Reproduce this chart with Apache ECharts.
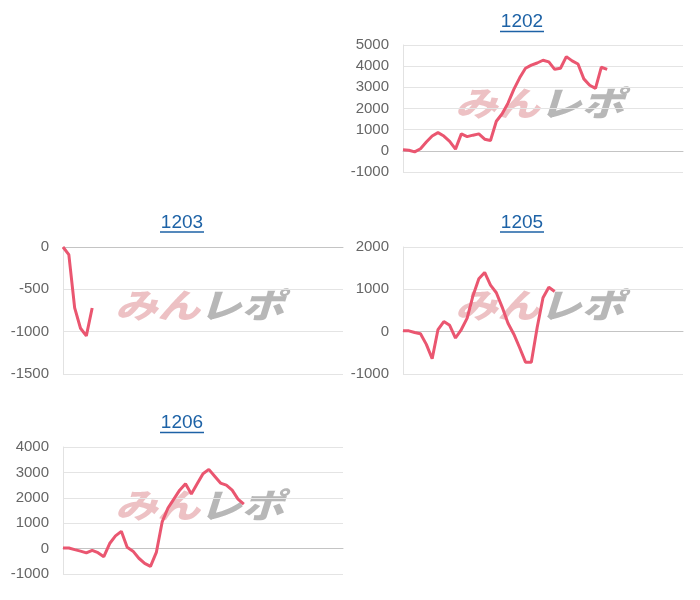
<!DOCTYPE html>
<html>
<head>
<meta charset="utf-8">
<script src="https://cdn.jsdelivr.net/npm/echarts@6/dist/echarts.min.js"></script>
<style>
html,body{margin:0;padding:0;background:#fff;}
#chart{width:700px;height:600px;}
</style>
</head>
<body>
<div id="chart"></div>
<script>
// ---- data ----
const slotCount = 49;
const slots = Array.from({length: slotCount}, (_, i) => String(i + 1));
const machineNames = ['1202', '1203', '1205', '1206'];
const values1202 = [50, 30, -50, 100, 420, 700, 860, 700, 450, 80, 800, 670, 740, 800, 550, 490, 1400, 1750, 2250, 2900, 3450, 3900, 4050, 4150, 4280, 4200, 3850, 3900, 4450, 4250, 4100, 3400, 3100, 2950, 3950, 3850];
const values1203 = [0, -90, -720, -960, -1050, -720];
const values1205 = [20, 20, -20, -50, -300, -640, 50, 240, 150, -150, 50, 320, 850, 1250, 1400, 1100, 920, 580, 200, -60, -380, -720, -720, 100, 800, 1050, 950];
const values1206 = [25, 25, -40, -100, -170, -70, -160, -320, 200, 500, 680, 50, -100, -380, -580, -700, -150, 1050, 1600, 1950, 2300, 2550, 2150, 2550, 2950, 3120, 2850, 2580, 2500, 2300, 1950, 1750];
const yMin = [-1000, -1500, -1000, -1000];
const yMax = [5000, 0, 2000, 4000];
const yStep = [1000, 500, 1000, 1000];
const seriesValues = [values1202, values1203, values1205, values1206];

// ---- layout ----
const grids = [
  {left: 403, top: 45, width: 280, height: 127},
  {left: 63, top: 247, width: 280, height: 127},
  {left: 403, top: 247, width: 280, height: 127},
  {left: 63, top: 447, width: 280, height: 127}
];
const titleCenters = [[522, 22], [182, 222.5], [522, 222.5], [182, 423]];
const lineColor = '#ea5670';
const titleColor = '#1d62a6';

const graphics = [];
grids.forEach((g, i) => {
  const [cx, cy] = titleCenters[i];
  graphics.push({
    type: 'text', x: cx, y: cy, z: 10,
    style: {text: machineNames[i], fill: titleColor, font: '19px "Liberation Sans", Arial, sans-serif', textAlign: 'center', textVerticalAlign: 'middle'}
  });
  graphics.push({
    type: 'line', z: 10,
    shape: {x1: cx - 22, y1: cy + 9.5, x2: cx + 22, y2: cy + 9.5},
    style: {stroke: titleColor, lineWidth: 1.3}
  });
  // watermark
  graphics.push({
    type: 'text', x: g.left + 52, y: g.top + 58, z: 0, scaleX: 1.25,
    style: {text: 'みん', fill: 'rgba(228,160,165,0.65)', font: 'italic 900 34px "Noto Sans CJK JP", sans-serif', textAlign: 'left', textVerticalAlign: 'middle'}
  });
  graphics.push({
    type: 'text', x: g.left + 136, y: g.top + 58, z: 0, scaleX: 1.25,
    style: {text: 'レポ', fill: 'rgba(165,165,165,0.8)', font: 'italic 900 34px "Noto Sans CJK JP", sans-serif', textAlign: 'left', textVerticalAlign: 'middle'}
  });
});

const option = {
  animation: false,
  backgroundColor: '#fff',
  grid: grids,
  xAxis: grids.map((g, i) => ({
    type: 'category', gridIndex: i, data: slots, boundaryGap: false,
    axisLabel: {show: false}, axisTick: {show: false},
    axisLine: {show: true, onZero: true, lineStyle: {color: '#c4c4c4', width: 1}},
    splitLine: {show: false}
  })),
  yAxis: grids.map((g, i) => ({
    type: 'value', gridIndex: i, min: yMin[i], max: yMax[i], interval: yStep[i],
    axisLabel: {color: '#666', fontSize: 15, margin: 14, fontFamily: '"Liberation Sans", Arial, sans-serif', formatter: v => String(v)},
    axisTick: {show: false},
    axisLine: {show: true, lineStyle: {color: '#e2e2e2'}},
    splitLine: {show: true, lineStyle: {color: '#e4e4e4', width: 1}}
  })),
  series: seriesValues.map((vals, i) => ({
    type: 'line', xAxisIndex: i, yAxisIndex: i, data: vals,
    showSymbol: false, symbol: 'none', z: 5,
    lineStyle: {color: lineColor, width: 3},
    itemStyle: {color: lineColor}
  })),
  graphic: graphics
};

const chart = echarts.init(document.getElementById('chart'), null, {renderer: 'canvas'});
chart.setOption(option);
</script>
</body>
</html>
